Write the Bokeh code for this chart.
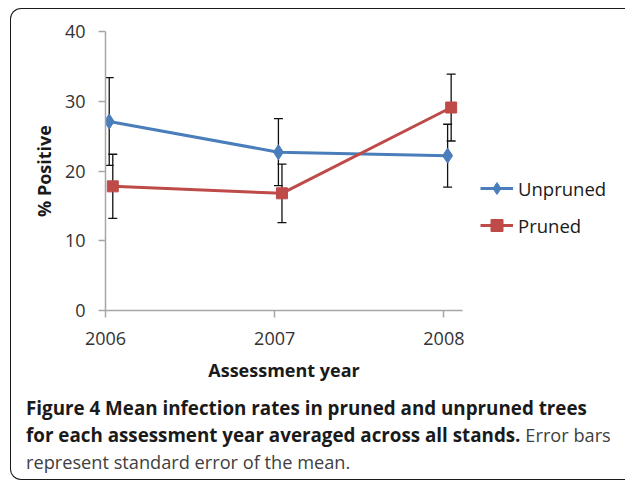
from bokeh.plotting import figure
from bokeh.models import (Range1d, FixedTicker, Legend, LegendItem, Whisker,
                          ColumnDataSource, TeeHead, Div)
from bokeh.layouts import column
from bokeh.transform import dodge
from bokeh.embed import file_html
from bokeh.resources import INLINE

# ---- data ----
years = [2006, 2007, 2008]
unpruned = [27.1, 22.7, 22.2]
unpruned_se = [6.3, 4.8, 4.5]
pruned = [17.8, 16.8, 29.1]
pruned_se = [4.6, 4.2, 4.8]
y_ticks = [0, 10, 20, 30, 40]
series_names = ["Unpruned", "Pruned"]
x_title = "Assessment year"
y_title = "% Positive"
caption_bold_1 = "Figure 4 Mean infection rates in pruned and unpruned trees"
caption_bold_2 = "for each assessment year averaged across all stands."
caption_norm_2 = "Error bars"
caption_norm_3 = "represent standard error of the mean."

BLUE = "#4a7ebb"
RED = "#be4b48"
FONT = "Open Sans"

p = figure(frame_width=357, frame_height=279, output_backend="svg",
           toolbar_location=None,
           x_range=Range1d(2006, 2008.11), y_range=Range1d(0, 40),
           min_border_left=94, min_border_right=161, min_border_top=22,
           min_border_bottom=80)
p.outline_line_color = None
p.grid.visible = False
p.background_fill_alpha = 0
p.border_fill_alpha = 0

for ax in (p.xaxis[0], p.yaxis[0]):
    ax.axis_line_color = "#a6a6a6"
    ax.axis_line_width = 1.5
    ax.major_tick_line_color = "#a6a6a6"
    ax.major_tick_line_width = 1.5
    ax.major_tick_in = 0
    ax.major_tick_out = 7
    ax.minor_tick_line_color = None
    ax.major_label_text_font = FONT
    ax.major_label_text_font_size = "18px"
    ax.major_label_text_color = "#333333"
    ax.axis_label_text_font = FONT
    ax.axis_label_text_font_style = "bold"
    ax.axis_label_text_font_size = "18px"
    ax.axis_label_text_color = "#1a1a1a"

p.xaxis.ticker = FixedTicker(ticks=years)
p.yaxis.ticker = FixedTicker(ticks=y_ticks)
p.xaxis.axis_label = x_title
p.yaxis.axis_label = y_title
p.xaxis.major_label_standoff = 14
p.yaxis.major_label_standoff = 13
p.xaxis.axis_label_standoff = 10
p.yaxis.axis_label_standoff = 6

src_u = ColumnDataSource(dict(x=years, y=unpruned,
                              upper=[v + e for v, e in zip(unpruned, unpruned_se)],
                              lower=[v - e for v, e in zip(unpruned, unpruned_se)]))
src_p = ColumnDataSource(dict(x=years, y=pruned,
                              upper=[v + e for v, e in zip(pruned, pruned_se)],
                              lower=[v - e for v, e in zip(pruned, pruned_se)]))

xu = dodge("x", 0.022)
xp = dodge("x", 0.043)

lu = p.line(x=xu, y="y", source=src_u, line_color=BLUE, line_width=3)
su = p.scatter(x=xu, y="y", source=src_u, marker="diamond", size=15,
               fill_color=BLUE, line_color=BLUE)
lp = p.line(x=xp, y="y", source=src_p, line_color=RED, line_width=3)
sp = p.scatter(x=xp, y="y", source=src_p, marker="square", size=11,
               fill_color=RED, line_color=RED)

for src, bx in ((src_u, xu), (src_p, xp)):
    w = Whisker(source=src, base=bx, upper="upper", lower="lower",
                dimension="height", line_color="#111111", line_width=1.3,
                upper_head=TeeHead(size=9, line_color="#111111", line_width=1.3),
                lower_head=TeeHead(size=9, line_color="#111111", line_width=1.3))
    p.add_layout(w)

legend = Legend(items=[LegendItem(label=series_names[0], renderers=[lu, su]),
                       LegendItem(label=series_names[1], renderers=[lp, sp])],
                location=(18, 70), orientation="vertical",
                border_line_color=None, background_fill_alpha=0,
                padding=0, margin=0, glyph_width=33, glyph_height=30,
                label_height=30, spacing=7, label_standoff=5,
                label_text_font=FONT, label_text_font_size="18.5px",
                label_text_color="#1a1a1a")
p.add_layout(legend, "right")

caption_html = (
    f'<span style="font-weight:700;color:#1a1a1a">{caption_bold_1}</span><br>'
    f'<span style="font-weight:700;color:#1a1a1a">{caption_bold_2}</span> '
    f'<span style="font-size:18.2px">{caption_norm_2}</span><br>'
    f'<span style="font-size:18.2px">{caption_norm_3}</span>'
)
cap = Div(text=caption_html, width=612, height=79,
          styles={"font-family": FONT, "font-size": "18.8px",
                  "line-height": "27px", "color": "#404040",
                  "white-space": "nowrap", "padding-left": "10px",
                  "margin-top": "5px", "box-sizing": "border-box"})

border = "1.5px solid #1a1a1a"
layout = column(p, cap, spacing=0,
                styles={"margin-left": "10px", "margin-top": "8px",
                        "border-top": border, "border-left": border,
                        "border-bottom": border,
                        "border-top-left-radius": "11px",
                        "border-bottom-left-radius": "11px"})

open("out.html", "w").write(file_html(layout, INLINE))
